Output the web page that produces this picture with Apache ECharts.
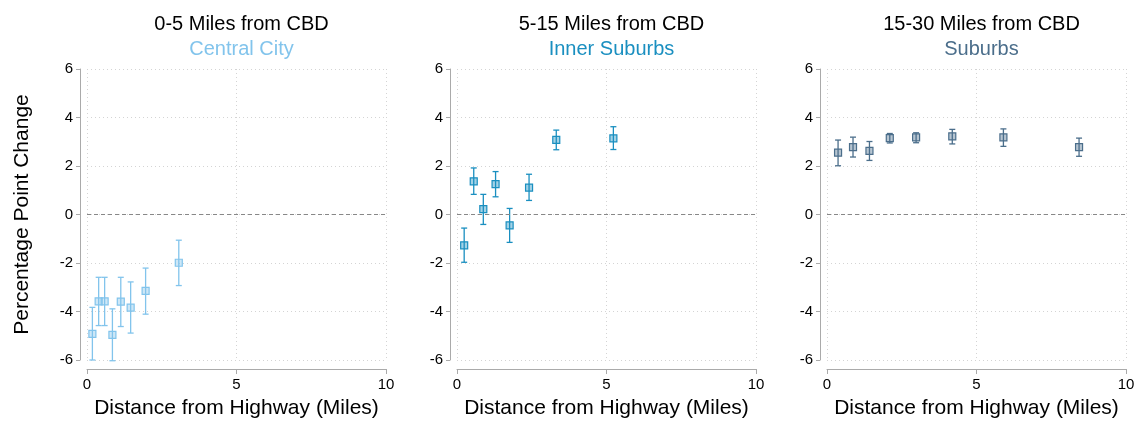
<!DOCTYPE html>
<html>
<head>
<meta charset="utf-8">
<script src="https://cdn.jsdelivr.net/npm/echarts@6/dist/echarts.min.js"></script>
<style>
html,body{margin:0;padding:0;background:#fff;}
#c{width:1138px;height:421px;}
</style>
</head>
<body>
<div id="c"></div>
<script>
// ---- data ----
const panelTitles = ['0-5 Miles from CBD', '5-15 Miles from CBD', '15-30 Miles from CBD'];
const panelSubtitles = ['Central City', 'Inner Suburbs', 'Suburbs'];
const yTicks = [-6, -4, -2, 0, 2, 4, 6];
const xTicks = [0, 5, 10];

const cityX  = [0.18, 0.39, 0.59, 0.85, 1.13, 1.46, 1.96, 3.07];
const cityY  = [-4.92, -3.58, -3.58, -4.96, -3.59, -3.84, -3.15, -1.99];
const cityLo = [-6.00, -4.58, -4.58, -6.03, -4.62, -4.89, -4.11, -2.93];
const cityHi = [-3.83, -2.59, -2.59, -3.89, -2.59, -2.78, -2.21, -1.06];

const innerX  = [0.24, 0.56, 0.88, 1.29, 1.76, 2.41, 3.32, 5.23];
const innerY  = [-1.27, 1.37, 0.22, 1.25, -0.45, 1.11, 3.08, 3.14];
const innerLo = [-1.97, 0.83, -0.41, 0.73, -1.15, 0.58, 2.67, 2.68];
const innerHi = [-0.56, 1.92, 0.83, 1.77, 0.25, 1.66, 3.48, 3.62];

const subX  = [0.37, 0.87, 1.42, 2.10, 2.98, 4.19, 5.90, 8.43];
const subY  = [2.55, 2.78, 2.62, 3.15, 3.18, 3.22, 3.18, 2.78];
const subLo = [2.01, 2.37, 2.23, 2.95, 2.96, 2.91, 2.81, 2.40];
const subHi = [3.07, 3.19, 3.01, 3.34, 3.37, 3.51, 3.53, 3.15];

const xAxisName = 'Distance from Highway (Miles)';
const yAxisName = 'Percentage Point Change';

// ---- styling ----
const colors = ['#82c4ec', '#1a8fc0', '#4b6e8b'];
const fills = ['rgba(130,196,236,0.4)', 'rgba(26,143,192,0.4)', 'rgba(75,110,139,0.4)'];
const gridLefts = [87, 457, 827];
const gridW = 299;
const FONT = 'Liberation Sans, Arial, Helvetica, sans-serif';

const panels = [
  {x: cityX, y: cityY, lo: cityLo, hi: cityHi},
  {x: innerX, y: innerY, lo: innerLo, hi: innerHi},
  {x: subX, y: subY, lo: subLo, hi: subHi}
];

const grids = [], xAxes = [], yAxes = [], series = [], titles = [];
panels.forEach((p, i) => {
  grids.push({left: gridLefts[i], top: 69, width: gridW, height: 291, containLabel: false, outerBoundsMode: 'none'});
  const cx = gridLefts[i] + gridW / 2;
  titles.push({text: panelTitles[i], left: cx, top: 9, textAlign: 'center',
    textStyle: {fontFamily: FONT, fontSize: 20, fontWeight: 'normal', color: '#000'}});
  titles.push({text: panelSubtitles[i], left: cx, top: 34, textAlign: 'center',
    textStyle: {fontFamily: FONT, fontSize: 20, fontWeight: 'normal', color: colors[i]}});
  xAxes.push({
    type: 'value', gridIndex: i, min: xTicks[0], max: xTicks[xTicks.length - 1], interval: 5,
    position: 'bottom', offset: 9,
    name: xAxisName, nameLocation: 'middle', nameGap: 29,
    nameTextStyle: {fontFamily: FONT, fontSize: 21, color: '#000'},
    axisLine: {show: true, onZero: false, lineStyle: {color: '#aaa', width: 1}},
    axisTick: {show: true, length: 5, lineStyle: {color: '#aaa'}},
    axisLabel: {fontFamily: FONT, fontSize: 15, color: '#000', margin: 8},
    splitLine: {show: true, lineStyle: {color: '#d4d4d4', type: [1, 3], width: 1}}
  });
  yAxes.push({
    type: 'value', gridIndex: i, min: yTicks[0], max: yTicks[yTicks.length - 1], interval: 2,
    position: 'left', offset: 7,
    name: i === 0 ? yAxisName : '', nameLocation: 'middle', nameGap: 47,
    nameTextStyle: {fontFamily: FONT, fontSize: 21, color: '#000'},
    axisLine: {show: true, onZero: false, lineStyle: {color: '#aaa', width: 1}},
    axisTick: {show: true, length: 4, lineStyle: {color: '#aaa'}},
    axisLabel: {fontFamily: FONT, fontSize: 15, color: '#000', margin: 7},
    splitLine: {show: true, lineStyle: {color: '#d4d4d4', type: [1, 3], width: 1}}
  });
  const errData = p.x.map((v, k) => [v, p.lo[k], p.hi[k]]);
  const col = colors[i];
  series.push({
    type: 'custom', xAxisIndex: i, yAxisIndex: i, data: errData,
    encode: {x: 0, y: [1, 2]}, silent: true,
    renderItem: function (params, api) {
      const xv = api.value(0), lo = api.value(1), hi = api.value(2);
      const a = api.coord([xv, hi]), b = api.coord([xv, lo]);
      const cw = 3;
      return {type: 'group', children: [
        {type: 'line', shape: {x1: a[0], y1: a[1], x2: b[0], y2: b[1]}, style: {stroke: col, lineWidth: 1.3}},
        {type: 'line', shape: {x1: a[0] - cw, y1: a[1], x2: a[0] + cw, y2: a[1]}, style: {stroke: col, lineWidth: 1.3}},
        {type: 'line', shape: {x1: b[0] - cw, y1: b[1], x2: b[0] + cw, y2: b[1]}, style: {stroke: col, lineWidth: 1.3}}
      ]};
    }
  });
  series.push({
    type: 'scatter', xAxisIndex: i, yAxisIndex: i,
    data: p.x.map((v, k) => [v, p.y[k]]),
    symbol: 'rect', symbolSize: 7,
    itemStyle: {color: fills[i], borderColor: col, borderWidth: 1.2, opacity: 1},
    silent: true, z: 3,
    markLine: {
      silent: true, symbol: 'none', label: {show: false},
      lineStyle: {color: '#888', type: [4, 3], width: 1},
      data: [{yAxis: 0}], animation: false
    }
  });
});

const chart = echarts.init(document.getElementById('c'), null, {renderer: 'canvas'});
chart.setOption({
  animation: false,
  backgroundColor: '#fff',
  title: titles,
  grid: grids,
  xAxis: xAxes,
  yAxis: yAxes,
  series: series
});
</script>
</body>
</html>
